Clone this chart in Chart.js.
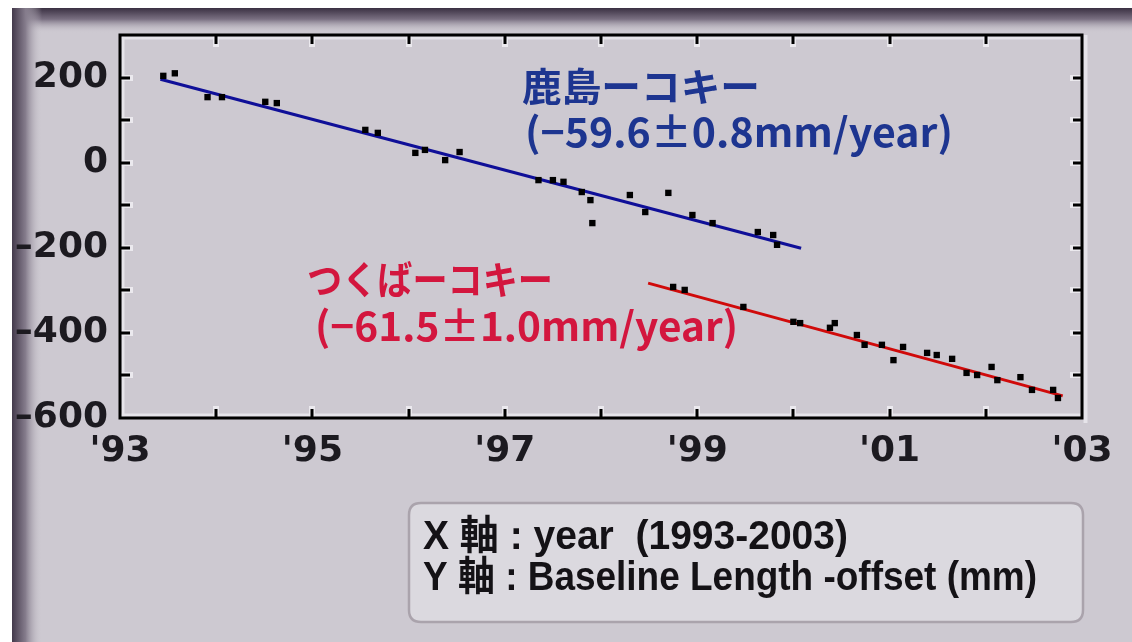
<!DOCTYPE html>
<html>
<head>
<meta charset="utf-8">
<script src="https://cdn.jsdelivr.net/npm/chart.js@4.4.1/dist/chart.umd.min.js"></script>
<style>
  html, body { margin: 0; padding: 0; background: #ffffff; }
  canvas { display: block; }
</style>
</head>
<body>
<canvas id="c" width="1132" height="642"></canvas>
<script>
// Baseline length minus offset (mm), VLBI sessions 1993–2003

// 鹿島 – コキー
const kashimaYears  = [1993.45, 1993.57, 1993.91, 1994.06, 1994.51, 1994.63, 1995.55, 1995.68,
                       1996.07, 1996.17, 1996.38, 1996.53, 1997.35, 1997.50, 1997.61, 1997.80,
                       1997.89, 1997.91, 1998.30, 1998.46, 1998.70, 1998.95, 1999.16, 1999.63,
                       1999.79, 1999.83];
const kashimaValues = [204, 210, 154, 154, 143, 140, 77, 70,
                       23, 30, 6, 25, -41, -41, -45, -69,
                       -88, -142, -76, -116, -71, -123, -142, -163,
                       -170, -193];

// つくば – コキー
const tsukubaYears  = [1998.75, 1998.87, 1999.48, 2000.00, 2000.07, 2000.38, 2000.43, 2000.66,
                       2000.74, 2000.92, 2001.04, 2001.14, 2001.39, 2001.49, 2001.65, 2001.80,
                       2001.91, 2002.06, 2002.12, 2002.36, 2002.48, 2002.70, 2002.75];
const tsukubaValues = [-292, -299, -339, -374, -377, -388, -377, -405,
                       -428, -428, -464, -433, -447, -452, -461, -494,
                       -499, -480, -511, -504, -534, -534, -553];

// Linear trends (mm/year) and the span each one is drawn over
const kashimaRate = -59.6, kashimaRateErr = 0.8;
const kashimaFitYears = [1993.42, 2000.08];
const kashimaFitStart = 196;
const tsukubaRate = -61.5, tsukubaRateErr = 1.0;
const tsukubaFitYears = [1998.49, 2002.80];
const tsukubaFitStart = -283;

// Axis labelling
const xLabelYears  = [1993, 1995, 1997, 1999, 2001, 2003];
const xTickLabels  = ["'93", "'95", "'97", "'99", "'01", "'03"];
const yLabelValues = [200, 0, -200, -400, -600];
const yTickLabels  = ["200", "0", "\u2013200", "\u2013400", "\u2013600"];

const kashimaName = '鹿島ーコキー';
const tsukubaName = 'つくばーコキー';
const axisNoteX = 'X 軸 : year  (1993-2003)';
const axisNoteY = 'Y 軸 : Baseline Length -offset (mm)';

function rateText(rate, err) {
  return '(' + (rate < 0 ? '\u2212' : '') + Math.abs(rate).toFixed(1) + '±' + err.toFixed(1) + 'mm/year)';
}
function toPoints(xs, ys) { return xs.map((x, i) => ({ x: x, y: ys[i] })); }
function trendLine(years, start, rate) {
  return years.map(t => ({ x: t, y: start + rate * (t - years[0]) }));
}

const BG = '#cdc9d1';
const BLUE_LINE = '#0f0f98';
const RED_LINE = '#d00a0a';
const BLUE_TEXT = '#1d3590';
const RED_TEXT = '#d3163e';

// Draws a single line of text squeezed/stretched to a given width
function fitText(ctx, str, x, y, w, font, color) {
  ctx.save();
  ctx.font = font;
  ctx.fillStyle = color;
  ctx.textBaseline = 'middle';
  ctx.textAlign = 'left';
  const m = ctx.measureText(str).width;
  ctx.translate(x, y);
  ctx.scale(w / m, 1);
  ctx.fillText(str, 0, 0);
  ctx.restore();
}

function roundRect(ctx, x, y, w, h, r) {
  ctx.beginPath();
  ctx.moveTo(x + r, y);
  ctx.lineTo(x + w - r, y);
  ctx.quadraticCurveTo(x + w, y, x + w, y + r);
  ctx.lineTo(x + w, y + h - r);
  ctx.quadraticCurveTo(x + w, y + h, x + w - r, y + h);
  ctx.lineTo(x + r, y + h);
  ctx.quadraticCurveTo(x, y + h, x, y + h - r);
  ctx.lineTo(x, y + r);
  ctx.quadraticCurveTo(x, y, x + r, y);
  ctx.closePath();
}

// Panel background with the shaded top and left edges
const framePlugin = {
  id: 'frame',
  beforeDraw(chart) {
    const ctx = chart.ctx, W = chart.width, H = chart.height;
    ctx.save();
    ctx.fillStyle = '#ffffff';
    ctx.fillRect(0, 0, W, H);
    ctx.fillStyle = BG;
    ctx.fillRect(12, 8, W - 12, H - 8);
    let g = ctx.createLinearGradient(0, 8, 0, 33);
    g.addColorStop(0, '#3a3042');
    g.addColorStop(0.45, '#7a7082');
    g.addColorStop(1, 'rgba(205,201,209,0)');
    ctx.fillStyle = g;
    ctx.fillRect(12, 8, W - 12, 25);
    g = ctx.createLinearGradient(12, 0, 42, 0);
    g.addColorStop(0, '#43394b');
    g.addColorStop(0.45, '#857c8c');
    g.addColorStop(1, 'rgba(205,201,209,0)');
    ctx.fillStyle = g;
    ctx.fillRect(12, 8, 30, H - 8);
    ctx.restore();
  },
  beforeDatasetsDraw(chart) {
    const ctx = chart.ctx, a = chart.chartArea;
    ctx.save();
    ctx.fillStyle = '#e6e4ea';
    ctx.fillRect(a.left, a.top + 1.5, a.right - a.left, 3);
    ctx.fillRect(a.left + 1.5, a.top, 3, a.bottom - a.top);
    ctx.fillRect(a.left, a.bottom - 4.5, a.right - a.left, 3);
    ctx.fillRect(a.right + 1.5, a.top, 4, a.bottom - a.top + 5);
    ctx.restore();
  },
  afterDatasetsDraw(chart) {
    const ctx = chart.ctx, a = chart.chartArea;
    const xs = chart.scales.x, ys = chart.scales.y;
    ctx.save();
    // inward tick marks on all four sides
    xs.ticks.forEach(t => {
      if (t.value <= xs.min || t.value >= xs.max) return;
      const px = Math.round(xs.getPixelForValue(t.value));
      ctx.fillStyle = '#ebe9ee';
      ctx.fillRect(px - 3, a.top, 6, 12);
      ctx.fillRect(px - 3, a.bottom - 12, 6, 12);
      ctx.fillStyle = '#000000';
      ctx.fillRect(px - 1.5, a.top, 3, 9);
      ctx.fillRect(px - 1.5, a.bottom - 9, 3, 9);
    });
    ys.ticks.forEach(t => {
      if (t.value <= ys.min || t.value >= ys.max) return;
      const py = Math.round(ys.getPixelForValue(t.value));
      ctx.fillStyle = '#ebe9ee';
      ctx.fillRect(a.left, py - 3, 13, 6);
      ctx.fillRect(a.right - 12, py - 3, 12, 6);
      ctx.fillStyle = '#000000';
      ctx.fillRect(a.left, py - 1.5, 10, 3);
      ctx.fillRect(a.right - 9, py - 1.5, 9, 3);
    });
    // plot frame
    ctx.strokeStyle = '#000000';
    ctx.lineWidth = 3;
    ctx.strokeRect(a.left, a.top, a.right - a.left, a.bottom - a.top);
    ctx.restore();
  },
  afterDraw(chart) {
    const ctx = chart.ctx;
    const cjk = '"Noto Sans CJK JP", "Noto Sans", sans-serif';
    fitText(ctx, kashimaName, 522, 86, 238, 'bold 39px ' + cjk, BLUE_TEXT);
    fitText(ctx, rateText(kashimaRate, kashimaRateErr), 525, 132, 428, 'bold 40px ' + cjk, BLUE_TEXT);
    fitText(ctx, tsukubaName, 307, 279, 246, 'bold 39px ' + cjk, RED_TEXT);
    fitText(ctx, rateText(tsukubaRate, tsukubaRateErr), 315, 326, 423, 'bold 40px ' + cjk, RED_TEXT);

    // axis description box
    ctx.save();
    roundRect(ctx, 409, 503, 674, 119, 12);
    ctx.fillStyle = '#dbd9df';
    ctx.fill();
    ctx.lineWidth = 2.5;
    ctx.strokeStyle = '#aaa3ac';
    ctx.stroke();
    ctx.restore();
    const note = 'bold 40px "Liberation Sans Narrow", "Liberation Sans", "Noto Sans CJK JP", sans-serif';
    fitText(ctx, axisNoteX, 423, 538, 425, note, '#141216');
    fitText(ctx, axisNoteY, 423, 579, 614, note, '#141216');
  }
};

const tickFont = { family: '"DejaVu Sans", sans-serif', size: 36, weight: 'bold' };

new Chart(document.getElementById('c'), {
  type: 'scatter',
  data: {
    datasets: [
      {
        label: kashimaName,
        data: toPoints(kashimaYears, kashimaValues),
        pointStyle: 'rect', pointRadius: 4.5, pointBorderWidth: 0,
        backgroundColor: '#000000', borderColor: '#000000',
        order: 0
      },
      {
        label: tsukubaName,
        data: toPoints(tsukubaYears, tsukubaValues),
        pointStyle: 'rect', pointRadius: 4.5, pointBorderWidth: 0,
        backgroundColor: '#000000', borderColor: '#000000',
        order: 0
      },
      {
        label: kashimaName + ' trend',
        data: trendLine(kashimaFitYears, kashimaFitStart, kashimaRate),
        showLine: true, pointRadius: 0, borderColor: BLUE_LINE, borderWidth: 3,
        order: 1
      },
      {
        label: tsukubaName + ' trend',
        data: trendLine(tsukubaFitYears, tsukubaFitStart, tsukubaRate),
        showLine: true, pointRadius: 0, borderColor: RED_LINE, borderWidth: 3,
        order: 1
      }
    ]
  },
  options: {
    responsive: false,
    animation: false,
    layout: { padding: { top: 35, right: 50, left: 0, bottom: 0 } },
    plugins: { legend: { display: false }, tooltip: { enabled: false } },
    scales: {
      x: {
        type: 'linear', min: 1993, max: 2003,
        border: { display: false },
        grid: { display: false, drawTicks: false },
        ticks: {
          stepSize: 1, autoSkip: false, maxRotation: 0, padding: 12,
          color: '#1c1a20', font: tickFont,
          callback: v => { const i = xLabelYears.indexOf(v); return i >= 0 ? xTickLabels[i] : ''; }
        },
        afterFit: s => { s.height = 224; }
      },
      y: {
        type: 'linear', min: -600, max: 300,
        border: { display: false },
        grid: { display: false, drawTicks: false },
        ticks: {
          stepSize: 100, autoSkip: false, padding: 12,
          color: '#1c1a20', font: tickFont,
          callback: v => { const i = yLabelValues.indexOf(v); return i >= 0 ? yTickLabels[i] : ''; }
        },
        afterFit: s => { s.width = 120; }
      }
    }
  },
  plugins: [framePlugin]
});
</script>
</body>
</html>
